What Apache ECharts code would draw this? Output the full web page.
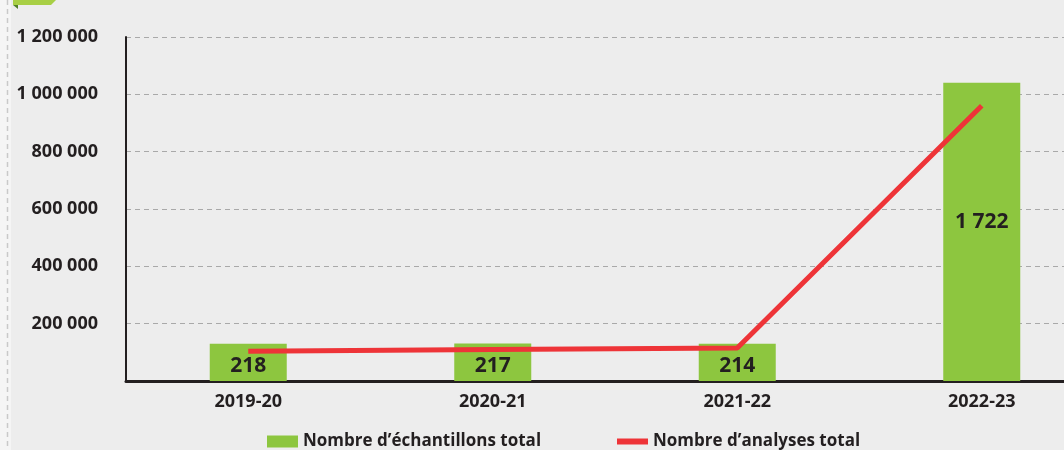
<!DOCTYPE html>
<html>
<head>
<meta charset="utf-8">
<script src="https://cdn.jsdelivr.net/npm/echarts@6/dist/echarts.min.js"></script>
<style>
html,body{margin:0;padding:0;background:#f5f5f5;}
#c{width:1064px;height:450px;}
</style>
</head>
<body>
<div id="c"></div>
<script>
var categories = ['2019-20', '2020-21', '2021-22', '2022-23'];
var echantillons = [130000, 131000, 130000, 1040000];
var echantillonsLabels = ['218', '217', '214', '1 722'];
var analyses = [104000, 110000, 115000, 960000];
var yTicks = [0, 200000, 400000, 600000, 800000, 1000000, 1200000];
var seriesNames = ['Nombre d\u2019\u00e9chantillons total', 'Nombre d\u2019analyses total'];

var FONT = '"Open Sans", "Noto Sans", sans-serif';
var DARK = '#231f20';

function fmt(v) {
  if (v === 0) return '';
  return String(v).replace(/\B(?=(\d{3})+(?!\d))/g, ' ');
}

var chart = echarts.init(document.getElementById('c'), null, {renderer: 'canvas'});
chart.setOption({
  animation: false,
  backgroundColor: '#f5f5f5',
  graphic: [
    {type: 'rect', z: -10, shape: {x: 11, y: 0, width: 1053, height: 450}, style: {fill: '#ededed'}},
    {type: 'line', z: -9, shape: {x1: 7.5, y1: 0, x2: 7.5, y2: 450}, style: {stroke: '#c9c9c9', lineWidth: 1.5, lineDash: [5, 4]}},
    {type: 'polygon', z: -8, shape: {points: [[13, 0], [56, 0], [51, 5], [13, 5]]}, style: {fill: '#a8cf45'}},
    {type: 'polygon', z: -8, shape: {points: [[13, 5], [18, 5], [18, 9]]}, style: {fill: '#4f7f28'}}
  ],
  grid: {left: 126, width: 978, top: 37, bottom: 69, containLabel: false, outerBoundsMode: 'none'},
  legend: [
    {
      data: [{name: seriesNames[0], icon: 'rect'}],
      left: 267, top: 433, padding: 0,
      itemWidth: 31, itemHeight: 12, itemGap: 6,
      textStyle: {fontFamily: FONT, fontWeight: 'bold', fontSize: 17, color: DARK}
    },
    {
      data: [{name: seriesNames[1], icon: 'rect'}],
      left: 617, top: 433, padding: 0,
      itemWidth: 31, itemHeight: 6, itemGap: 6,
      textStyle: {fontFamily: FONT, fontWeight: 'bold', fontSize: 17, color: DARK}
    }
  ],
  xAxis: {
    type: 'category',
    data: categories,
    axisLine: {lineStyle: {color: DARK, width: 3}},
    axisTick: {show: false},
    axisLabel: {fontFamily: FONT, fontWeight: 'bold', fontSize: 18, color: DARK, margin: 12}
  },
  yAxis: {
    type: 'value',
    min: yTicks[0],
    max: yTicks[yTicks.length - 1],
    interval: yTicks[1] - yTicks[0],
    axisLine: {show: true, lineStyle: {color: DARK, width: 2}},
    axisTick: {show: false},
    splitLine: {lineStyle: {color: '#a9a9a9', width: 1, type: [5, 4]}},
    axisLabel: {
      fontFamily: FONT, fontWeight: 'bold', fontSize: 18, color: DARK, margin: 28,
      formatter: fmt, padding: [0, 0, 4, 0]
    }
  },
  series: [
    {
      name: seriesNames[0],
      type: 'bar',
      barWidth: 77,
      itemStyle: {color: '#8dc63f'},
      data: echantillons.map(function (v, i) {
        return {value: v, label: {formatter: echantillonsLabels[i], offset: v > 500000 ? [0, -10] : [0, 4]}};
      }),
      label: {
        show: true, position: 'inside',
        fontFamily: FONT, fontWeight: 'bold', fontSize: 21, color: DARK
      },
      z: 2
    },
    {
      name: seriesNames[1],
      type: 'line',
      data: analyses,
      showSymbol: false,
      symbol: 'none',
      lineStyle: {color: '#ee3438', width: 5},
      itemStyle: {color: '#ee3438'},
      z: 3
    }
  ]
});
</script>
</body>
</html>
